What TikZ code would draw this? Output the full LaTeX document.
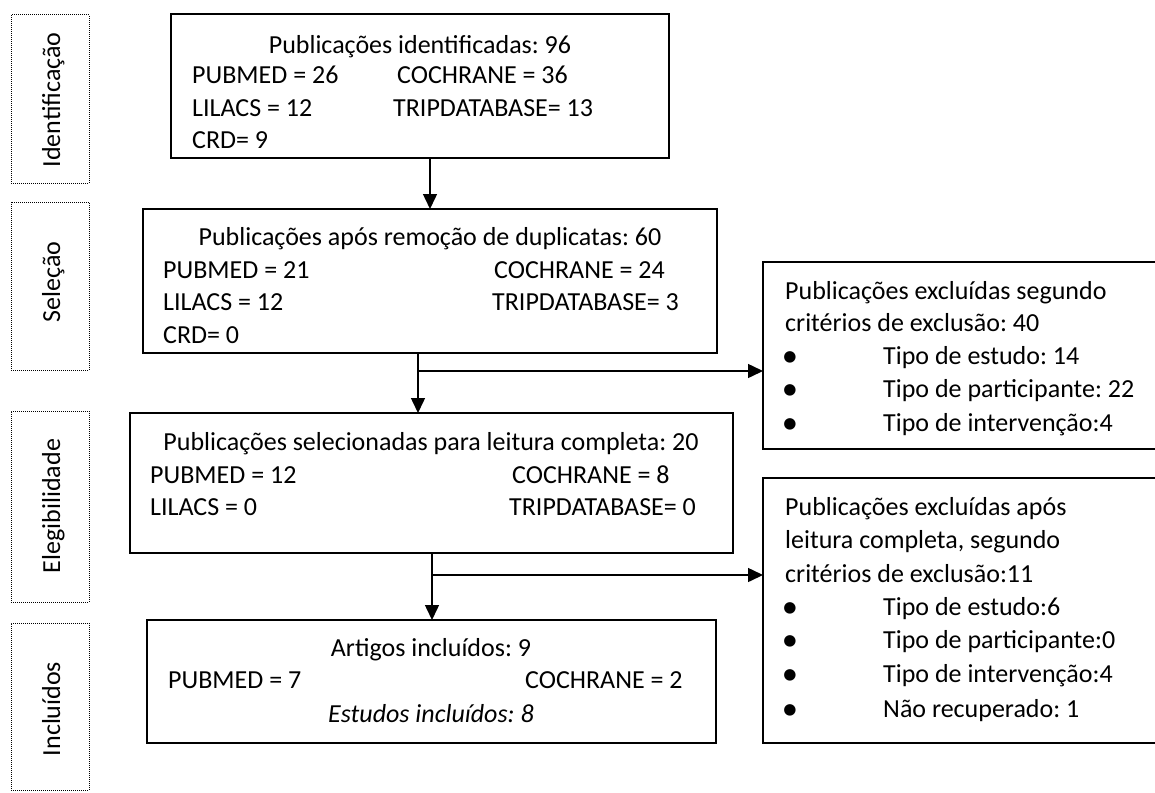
\documentclass[tikz,border=0pt]{standalone}
\usepackage{fontspec}
\setmainfont{Carlito}
\usetikzlibrary{arrows.meta}
\frenchspacing
\newcommand{\bigbul}{\raisebox{-2.5pt}{\scalebox{1.25}{•}}}
\tikzset{
 fsz/.style={font=\fontsize{26pt}{32pt}\selectfont\frenchspacing},
 box/.style={draw, line width=1.5pt, inner sep=0pt, outer sep=0pt},
 sidebox/.style={draw, line width=1pt, dash pattern=on 1pt off 1pt, inner sep=0pt, outer sep=0pt},
 sidelabel/.style={fsz, rotate=90, anchor=base, inner sep=0pt},
 lt/.style={fsz, anchor=base west, inner sep=0pt},
 ct/.style={fsz, anchor=base, inner sep=0pt},
 arr/.style={line width=1.5pt, -{Triangle[length=15pt,width=14pt]}}
}
\begin{document}
\begin{tikzpicture}[x=1pt,y=-1pt]
\useasboundingbox (0,0) rectangle (1155,792);
\fill[white] (0,0) rectangle (1155,792);
\clip (0,0) rectangle (1155,792);
% side stage boxes
\node[sidebox, minimum width=78pt, minimum height=168pt] (s1) at (50,99) {};
\node[sidebox, minimum width=78pt, minimum height=168pt] (s2) at (50,286) {};
\node[sidebox, minimum width=78pt, minimum height=191pt] (s3) at (50,506.5) {};
\node[sidebox, minimum width=78pt, minimum height=167pt] (s4) at (50,706.5) {};
\node[sidelabel] (l1) at (60,100) {Identificação};
\node[sidelabel] (l2) at (60,282) {Seleção};
\node[sidelabel] (l3) at (60,506) {Elegibilidade};
\node[sidelabel] (l4) at (60,709) {Incluídos};
% main boxes
\node[box, minimum width=498pt, minimum height=144pt] (b1) at (420,86) {};
\node[box, minimum width=574pt, minimum height=144pt] (b2) at (430,281) {};
\node[box, minimum width=603pt, minimum height=140pt] (b3) at (431.5,483) {};
\node[box, minimum width=569pt, minimum height=123pt] (b4) at (431.5,681.5) {};
% exclusion boxes (open to the right edge)
\node[box, minimum width=402pt, minimum height=187pt] (e1) at (964,355.5) {};
\node[box, minimum width=402pt, minimum height=265pt] (e2) at (964,610.5) {};
% box 1 text
\node[ct] (t1a) at (420,53) {Publicações identificadas: 96};
\node[lt] (t1b) at (192,83) {PUBMED = 26};
\node[lt] (t1c) at (397,83) {COCHRANE = 36};
\node[lt] (t1d) at (192,116) {LILACS = 12};
\node[lt] (t1e) at (393,116) {TRIPDATABASE= 13};
\node[lt] (t1f) at (192,148) {CRD= 9};
% box 2 text
\node[ct] (t2a) at (430,245) {Publicações após remoção de duplicatas: 60};
\node[lt] (t2b) at (163,278) {PUBMED = 21};
\node[lt] (t2c) at (494,278) {COCHRANE = 24};
\node[lt] (t2d) at (163,310) {LILACS = 12};
\node[lt] (t2e) at (492,310) {TRIPDATABASE= 3};
\node[lt] (t2f) at (163,343) {CRD= 0};
% box 3 text
\node[ct] (t3a) at (431,450) {Publicações selecionadas para leitura completa: 20};
\node[lt] (t3b) at (150,483) {PUBMED = 12};
\node[lt] (t3c) at (512,483) {COCHRANE = 8};
\node[lt] (t3d) at (150,515) {LILACS = 0};
\node[lt] (t3e) at (509,515) {TRIPDATABASE= 0};
% box 4 text
\node[ct] (t4a) at (431,656) {Artigos incluídos: 9};
\node[lt] (t4b) at (168,688) {PUBMED = 7};
\node[lt] (t4c) at (525,688) {COCHRANE = 2};
\node[ct] (t4d) at (431,722) {\itshape Estudos incluídos: 8};
% exclusion 1 text
\node[lt] (x1a) at (785,299) {Publicações excluídas segundo};
\node[lt] (x1b) at (785,331) {critérios de exclusão: 40};
\node[ct] (x1c) at (790,364) {\bigbul};
\node[lt] (x1d) at (883,364) {Tipo de estudo: 14};
\node[ct] (x1e) at (790,397) {\bigbul};
\node[lt] (x1f) at (883,397) {Tipo de participante: 22};
\node[ct] (x1g) at (790,431) {\bigbul};
\node[lt] (x1h) at (883,431) {Tipo de intervenção:4};
% exclusion 2 text
\node[lt] (x2a) at (785,515) {Publicações excluídas após};
\node[lt] (x2b) at (785,548) {leitura completa, segundo};
\node[lt] (x2c) at (785,582) {critérios de exclusão:11};
\node[ct] (x2d) at (790,615) {\bigbul};
\node[lt] (x2e) at (883,615) {Tipo de estudo:6};
\node[ct] (x2f) at (790,648) {\bigbul};
\node[lt] (x2g) at (883,648) {Tipo de participante:0};
\node[ct] (x2h) at (790,682) {\bigbul};
\node[lt] (x2i) at (883,682) {Tipo de intervenção:4};
\node[ct] (x2j) at (790,717) {\bigbul};
\node[lt] (x2k) at (883,717) {Não recuperado: 1};
% connectors
\coordinate (j1) at (418,371);
\coordinate (j2) at (432,575);
\draw[arr] (b2.north |- b1.south) -- (b2.north);
\draw[arr] (j1 |- b2.south) -- (j1 |- b3.north);
\draw[arr] (j1) -- (j1 -| e1.west);
\draw[arr] (j2 |- b3.south) -- (j2 |- b4.north);
\draw[arr] (j2) -- (j2 -| e2.west);
\end{tikzpicture}
\end{document}
